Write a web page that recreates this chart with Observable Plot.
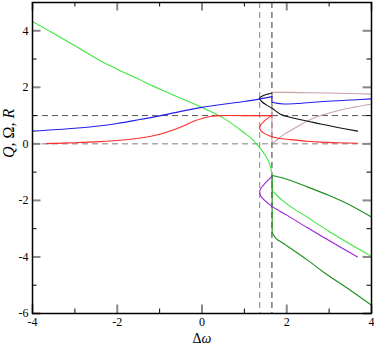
<!DOCTYPE html>
<html>
<head>
<meta charset="utf-8">
<script src="https://cdn.jsdelivr.net/npm/d3@7"></script>
<script src="https://cdn.jsdelivr.net/npm/@observablehq/plot@0.6"></script>
<style>
  html, body { margin: 0; padding: 0; background: white; }
  #chart { width: 374px; height: 344px; }
</style>
</head>
<body>
<div id="chart"></div>
<script>
// ---- tick values ----
const xMajor = [-4, -2, 0, 2, 4];
const xMinor = [-3, -1, 1, 3];
const yMajor = [-6, -4, -2, 0, 2, 4];
const yMinor = [-5, -3, -1, 1, 3, 5];

// ---- reference lines ----
const hLines = [1, 0];
const vLines = [1.36, 1.65];

// ---- curves: [Δω, value] ----
const greenUpper = [[-4,4.33],[-3.5,3.9],[-3,3.47],[-2.4,2.94],[-2,2.64],[-1.5,2.29],[-1,1.94],[-0.5,1.61],[0,1.29],[0.5,0.92],[0.9,0.5],[1.15,0.21],[1.37,-0.15],[1.5,-0.42],[1.58,-0.65],[1.62,-0.83],[1.64,-0.98],[1.65,-1.17]];
const greenJump = [[1.65,-1.17],[1.655,-1.65]];
const greenLower = [[1.66,-1.65],[1.75,-1.8],[1.9,-2.0],[2.09,-2.22],[2.49,-2.6],[3.0,-3.1],[3.5,-3.55],[4,-3.98]];

const dkGreenUpper = [[1.66,-1.12],[2.0,-1.25],[2.5,-1.53],[3.0,-1.83],[3.5,-2.17],[4,-2.59]];
const dkGreenJump = [[1.655,-1.12],[1.655,-3.15]];
const dkGreenLower = [[1.66,-3.15],[1.75,-3.35],[1.9,-3.5],[2.0,-3.6],[2.5,-4.12],[2.88,-4.55],[3.5,-5.18],[4,-5.71]];

const blueUpper = [[-4,0.45],[-3,0.55],[-2.4,0.64],[-2,0.72],[-1.5,0.85],[-1,0.99],[-0.5,1.15],[0,1.29],[0.5,1.4],[1,1.5],[1.4,1.6],[1.65,1.67]];
const blueJump = [[1.65,1.67],[1.65,1.48]];
const blueLower = [[1.65,1.48],[1.75,1.44],[1.93,1.41],[2.3,1.43],[2.8,1.49],[3.4,1.54],[4,1.59]];

const rosyUpper = [[1.65,1.82],[2.0,1.82],[2.5,1.81],[3.0,1.8],[3.5,1.78],[4,1.76]];
const rosyJump = [[1.65,1.82],[1.65,0.1],[1.69,0.03]];
const rosyLower = [[1.69,0.03],[1.75,0.12],[1.9,0.3],[2.09,0.47],[2.5,0.82],[2.8,1.0],[3.27,1.2],[3.6,1.3],[4,1.4]];

const blackC = [[1.65,1.8],[1.55,1.76],[1.45,1.71],[1.38,1.65],[1.36,1.6],[1.42,1.48],[1.52,1.38],[1.66,1.25],[1.85,1.05],[2.1,0.93],[2.5,0.8],[2.8,0.7],[3.2,0.58],[3.67,0.45]];

const redMain = [[-3.67,0.01],[-3,0.04],[-2.4,0.08],[-2,0.12],[-1.5,0.2],[-1.2,0.27],[-1,0.34],[-0.7,0.48],[-0.43,0.64],[-0.2,0.8],[0,0.9],[0.2,0.97],[0.4,1.0],[1,1.0],[1.65,1.0]];
const redC = [[1.65,1.0],[1.55,0.9],[1.45,0.78],[1.38,0.66],[1.36,0.58],[1.39,0.47],[1.47,0.37],[1.6,0.28],[1.8,0.2],[2.09,0.15],[2.5,0.09],[2.8,0.06],[3.2,0.04],[3.67,0.02]];

const violetC = [[1.65,-1.15],[1.55,-1.3],[1.45,-1.46],[1.38,-1.6],[1.36,-1.71],[1.39,-1.85],[1.48,-2.0],[1.66,-2.22],[2.0,-2.52],[2.49,-2.97],[3.0,-3.42],[3.27,-3.66],[3.67,-4.0]];

// ---- styling ----
const col = {
  green: "#3ee63e", dkgreen: "#1a8f1a", blue: "#2222ee", rosy: "#c9a3a3",
  black: "#111111", red: "#ff2a2a", violet: "#9a22d8"
};
const series = [
  [greenUpper, col.green, "catmull-rom"], [greenJump, col.green, "linear"], [greenLower, col.green, "catmull-rom"],
  [dkGreenUpper, col.dkgreen, "catmull-rom"], [dkGreenJump, col.dkgreen, "linear"], [dkGreenLower, col.dkgreen, "catmull-rom"],
  [rosyUpper, col.rosy, "catmull-rom"], [rosyJump, col.rosy, "linear"], [rosyLower, col.rosy, "catmull-rom"],
  [blueUpper, col.blue, "catmull-rom"], [blueJump, col.blue, "linear"], [blueLower, col.blue, "catmull-rom"],
  [blackC, col.black, "catmull-rom"],
  [redMain, col.red, "catmull-rom"], [redC, col.red, "catmull-rom"],
  [violetC, col.violet, "catmull-rom"]
];

const W = 374, H = 344, mL = 32, mR = 3, mT = 2, mB = 31;
const fw = W - mL - mR, fh = H - mT - mB;
const majLen = 8.5, minLen = 4.5;

const chart = Plot.plot({
  width: W, height: H,
  marginLeft: mL, marginRight: mR, marginTop: mT, marginBottom: mB,
  x: {domain: [-4, 4]},
  y: {domain: [-6, 5]},
  style: {fontFamily: "'Liberation Serif', 'DejaVu Serif', serif", fontSize: "12px", background: "white", color: "black"},
  marks: [
    Plot.ruleY([hLines[0]], {y: d => d, stroke: "#555", strokeWidth: 1, strokeDasharray: "6,4"}),
    Plot.ruleY([hLines[1]], {y: d => d, stroke: "#aaa", strokeWidth: 1.5, strokeDasharray: "6,4"}),
    Plot.ruleX([vLines[0]], {x: d => d, stroke: "#999", strokeWidth: 1.2, strokeDasharray: "6,4"}),
    Plot.ruleX([vLines[1]], {x: d => d, stroke: "#555", strokeWidth: 1.2, strokeDasharray: "6,4"}),
    ...series.map(([pts, c, curve]) => Plot.line(pts, {x: d => d[0], y: d => d[1], stroke: c, strokeWidth: 1.1, curve})),
    // ticks (inward, mirrored)
    Plot.tickX(xMajor, {x: d => d, insetTop: fh - majLen, stroke: "#888", strokeWidth: 2}),
    Plot.tickX(xMajor, {x: d => d, insetBottom: fh - majLen, stroke: "#888", strokeWidth: 2}),
    Plot.tickX(xMinor, {x: d => d, insetTop: fh - minLen, stroke: "black", strokeWidth: 1}),
    Plot.tickX(xMinor, {x: d => d, insetBottom: fh - minLen, stroke: "black", strokeWidth: 1}),
    Plot.tickY(yMajor, {y: d => d, insetRight: fw - majLen, stroke: "#888", strokeWidth: 2}),
    Plot.tickY(yMajor, {y: d => d, insetLeft: fw - majLen, stroke: "#888", strokeWidth: 2}),
    Plot.tickY(yMinor, {y: d => d, insetRight: fw - minLen, stroke: "black", strokeWidth: 1}),
    Plot.tickY(yMinor, {y: d => d, insetLeft: fw - minLen, stroke: "black", strokeWidth: 1}),
    Plot.frame({stroke: "black", strokeWidth: 1.5}),
    Plot.axisX(xMajor, {anchor: "bottom", tickSize: 0, tickPadding: 4, tickFormat: d => String(d), label: null}),
    Plot.axisY(yMajor, {anchor: "left", tickSize: 0, tickPadding: 4, tickFormat: d => String(d), label: null}),
    Plot.text(["Δω"], {frameAnchor: "bottom", dy: 29, fontSize: 14, text: d => d}),
    Plot.text(["Q, Ω, R"], {frameAnchor: "left", dx: -24, rotate: -90, fontSize: 16, fontStyle: "italic", text: d => d})
  ]
});

// style the axis titles with mixed upright/italic glyphs
d3.select(chart).selectAll("text").each(function() {
  const t = this.textContent;
  if (t === "Δω") {
    this.textContent = "";
    const s = d3.select(this);
    s.append("tspan").text("Δ");
    s.append("tspan").attr("font-style", "italic").text("ω");
  } else if (t === "Q, Ω, R") {
    this.textContent = "";
    const s = d3.select(this);
    s.append("tspan").text("Q, ");
    s.append("tspan").attr("font-style", "normal").text("Ω");
    s.append("tspan").text(", R");
  }
});

document.getElementById("chart").appendChild(chart);
</script>
</body>
</html>
